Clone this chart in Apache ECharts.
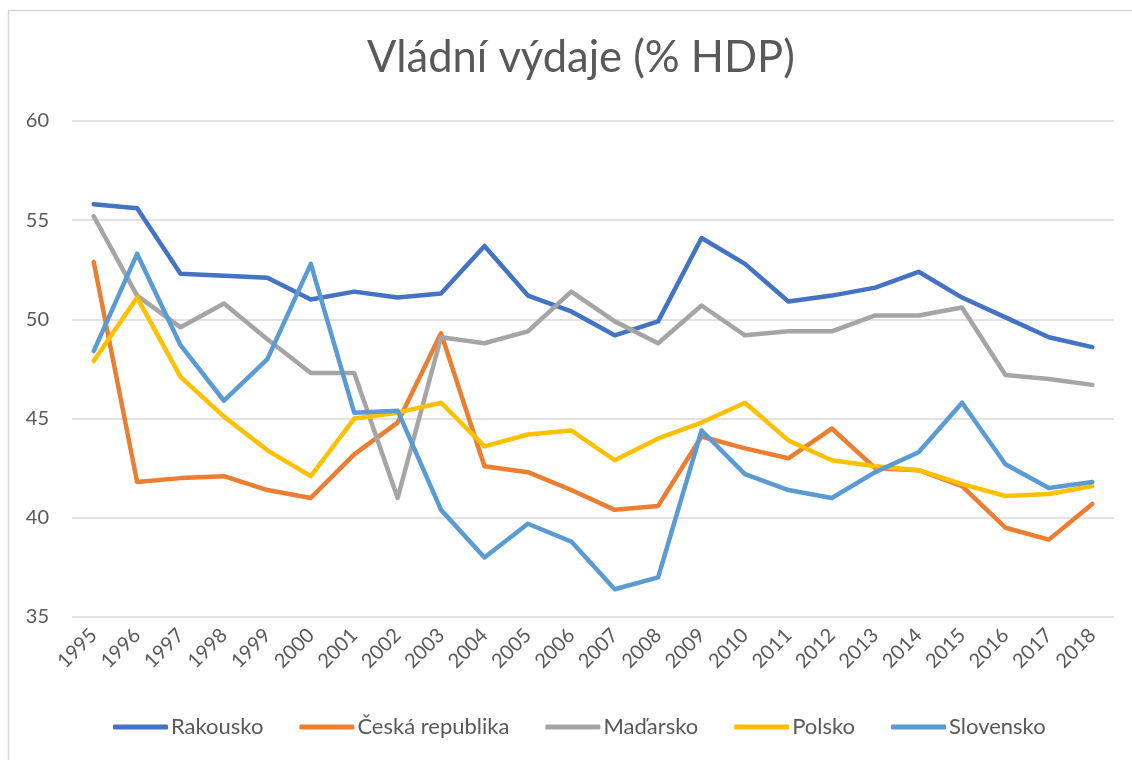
<!DOCTYPE html>
<html>
<head>
<meta charset="utf-8">
<script src="https://cdn.jsdelivr.net/npm/echarts@6/dist/echarts.min.js"></script>
<style>
  html, body { margin: 0; padding: 0; background: #fff; }
  #chart { width: 1132px; height: 760px; }
</style>
</head>
<body>
<div id="chart"></div>
<script>
const years = ["1995", "1996", "1997", "1998", "1999", "2000", "2001", "2002", "2003", "2004", "2005", "2006",
  "2007", "2008", "2009", "2010", "2011", "2012", "2013", "2014", "2015", "2016", "2017", "2018"];
const rakousko = [55.8, 55.6, 52.3, 52.2, 52.1, 51.0, 51.4, 51.1, 51.3, 53.7, 51.2, 50.4,
  49.2, 49.9, 54.1, 52.8, 50.9, 51.2, 51.6, 52.4, 51.1, 50.1, 49.1, 48.6];
const ceskaRepublika = [52.9, 41.8, 42.0, 42.1, 41.4, 41.0, 43.2, 44.8, 49.3, 42.6, 42.3, 41.4,
  40.4, 40.6, 44.1, 43.5, 43.0, 44.5, 42.5, 42.4, 41.6, 39.5, 38.9, 40.7];
const madarsko = [55.2, 51.2, 49.6, 50.8, 49.0, 47.3, 47.3, 41.0, 49.1, 48.8, 49.4, 51.4,
  49.9, 48.8, 50.7, 49.2, 49.4, 49.4, 50.2, 50.2, 50.6, 47.2, 47.0, 46.7];
const polsko = [47.9, 51.1, 47.1, 45.1, 43.4, 42.1, 45.0, 45.3, 45.8, 43.6, 44.2, 44.4,
  42.9, 44.0, 44.8, 45.8, 43.9, 42.9, 42.6, 42.4, 41.7, 41.1, 41.2, 41.6];
const slovensko = [48.4, 53.3, 48.7, 45.9, 48.0, 52.8, 45.3, 45.4, 40.4, 38.0, 39.7, 38.8,
  36.4, 37.0, 44.4, 42.2, 41.4, 41.0, 42.3, 43.3, 45.8, 42.7, 41.5, 41.8];

const font = "Lato, 'Open Sans', sans-serif";
const textColor = "#595959";

function lineSeries(name, data, color) {
  return {
    name: name,
    type: "line",
    data: data,
    showSymbol: false,
    symbol: "none",
    lineStyle: { width: 4.5, color: color, cap: "round", join: "round" },
    itemStyle: { color: color }
  };
}

let myChart = echarts.init(document.getElementById("chart"));
myChart.setOption({
  backgroundColor: "#fff",
  animation: false,
  title: {
    text: "Vládní výdaje (% HDP)",
    left: 362,
    top: 31,
    textStyle: { fontFamily: font, fontSize: 43.5, fontWeight: "normal", color: textColor }
  },
  graphic: [
    {
      // chart area border
      type: "rect",
      shape: { x: 8.5, y: 10.5, width: 1200, height: 800 },
      style: { fill: "none", stroke: "#d9d9d9", lineWidth: 1.5 },
      silent: true
    }
  ],
  legend: {
    bottom: 17,
    left: 108,
    icon: "roundRect",
    itemWidth: 55,
    itemHeight: 5,
    itemGap: 36,
    textStyle: { fontFamily: font, fontSize: 22, color: textColor, padding: [0, 0, 0, -2] },
    data: ["Rakousko", "Česká republika", "Maďarsko", "Polsko", "Slovensko"]
  },
  grid: {
    left: 72,
    top: 121,
    width: 1042,
    height: 496,
    containLabel: false
  },
  xAxis: {
    type: "category",
    data: years,
    boundaryGap: true,
    axisLine: { show: false },
    axisTick: { show: false },
    axisLabel: {
      rotate: 45,
      margin: 15,
      interval: 0,
      fontFamily: font,
      fontSize: 20,
      color: textColor
    }
  },
  yAxis: {
    type: "value",
    min: 35,
    max: 60,
    interval: 5,
    axisLine: { show: false },
    axisTick: { show: false },
    axisLabel: { margin: 23, fontFamily: font, fontSize: 20, color: textColor },
    splitLine: { lineStyle: { color: "#d9d9d9", width: 1.5 } }
  },
  series: [
    lineSeries("Rakousko", rakousko, "#4472C4"),
    lineSeries("Česká republika", ceskaRepublika, "#ED7D31"),
    lineSeries("Maďarsko", madarsko, "#A5A5A5"),
    lineSeries("Polsko", polsko, "#FFC000"),
    lineSeries("Slovensko", slovensko, "#5B9BD5")
  ]
});
</script>
</body>
</html>
